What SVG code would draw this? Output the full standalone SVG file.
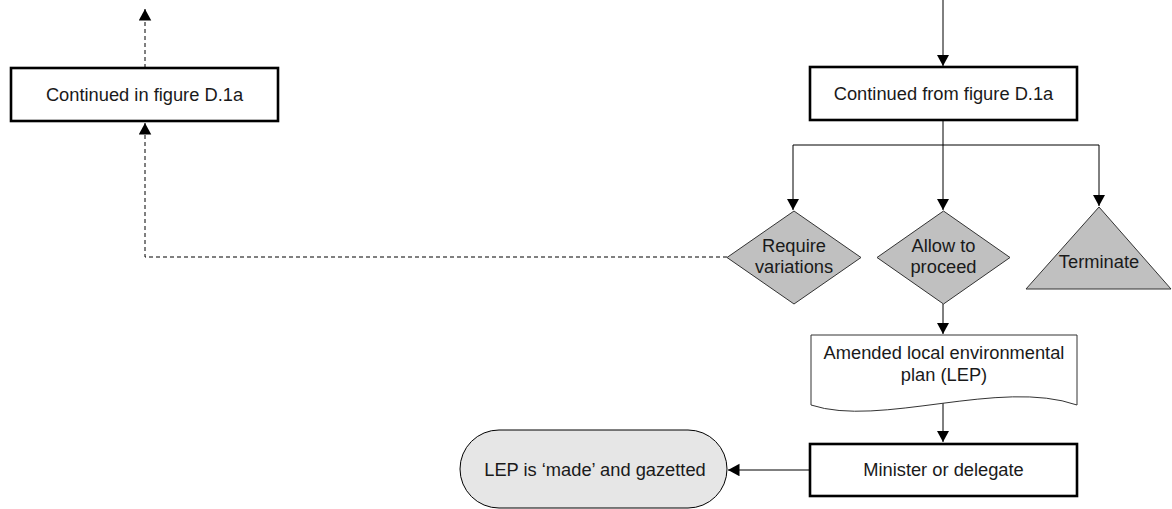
<svg xmlns="http://www.w3.org/2000/svg" width="1172" height="509" viewBox="0 0 1172 509">
<defs>
<style>
.box{fill:#fff;stroke:#000;stroke-width:2.6}
.dia{fill:#c0c0c0;stroke:#333;stroke-width:1}
.term{fill:#e6e6e6;stroke:#000;stroke-width:1}
.doc{fill:#fff;stroke:#333;stroke-width:1}
.t{font-family:"Liberation Sans",Arial,sans-serif;font-size:18.3px;fill:#1a1a1a;text-anchor:middle}
.c{fill:none;stroke:#000;stroke-width:1}
.d{fill:none;stroke:#000;stroke-width:1;stroke-dasharray:4 3}
</style>
<marker id="ah" markerUnits="userSpaceOnUse" markerWidth="12" markerHeight="13" refX="11.5" refY="6.25" orient="auto">
<path d="M0,0 L11.5,6.25 L0,12.5 z" fill="#000"/>
</marker>
</defs>
<rect width="1172" height="509" fill="#fff"/>
<g id="connectors">
<path class="d" d="M145,68 V9" marker-end="url(#ah)"/>
<path class="d" d="M727,257 H145 V123" marker-end="url(#ah)"/>
<path class="c" d="M943,0 V66" marker-end="url(#ah)"/>
<path class="c" d="M943,121 V145"/>
<path class="c" d="M793,145 H1099"/>
<path class="c" d="M793,145 V210" marker-end="url(#ah)"/>
<path class="c" d="M943,145 V210" marker-end="url(#ah)"/>
<path class="c" d="M1099,145 V206" marker-end="url(#ah)"/>
<path class="c" d="M943,304 V334" marker-end="url(#ah)"/>
<path class="c" d="M943,402 V442" marker-end="url(#ah)"/>
<path class="c" d="M810,470 H728" marker-end="url(#ah)"/>
</g>
<g id="n_cont_in">
<rect class="box" x="11" y="68" width="267" height="53"/>
<text class="t" x="144.5" y="101">Continued in figure D.1a</text>
</g>
<g id="n_cont_from">
<rect class="box" x="810" y="67" width="267" height="53"/>
<text class="t" x="943.5" y="100">Continued from figure D.1a</text>
</g>
<g id="n_require">
<polygon class="dia" points="794,211 861,257.5 794,304 727,257.5"/>
<text class="t" x="794" y="252">Require</text>
<text class="t" x="794" y="273">variations</text>
</g>
<g id="n_allow">
<polygon class="dia" points="943.5,211 1010,257.5 943.5,304 877,257.5"/>
<text class="t" x="943.5" y="252">Allow to</text>
<text class="t" x="943.5" y="273">proceed</text>
</g>
<g id="n_terminate">
<polygon class="dia" points="1099,207 1171,289 1026,289"/>
<text class="t" x="1099" y="268">Terminate</text>
</g>
<g id="n_amended">
<path class="doc" d="M811,405 V335 H1077 V405 C1000,378 880,428 811,405 Z"/>
<text class="t" x="944" y="359">Amended local environmental</text>
<text class="t" x="944" y="381">plan (LEP)</text>
</g>
<g id="n_minister">
<rect class="box" x="810" y="444" width="267" height="52"/>
<text class="t" x="943.5" y="476">Minister or delegate</text>
</g>
<g id="n_lep">
<rect class="term" x="460" y="430" width="267" height="78" rx="39" ry="39"/>
<text class="t" x="595" y="476">LEP is ‘made’ and gazetted</text>
</g>
</svg>
